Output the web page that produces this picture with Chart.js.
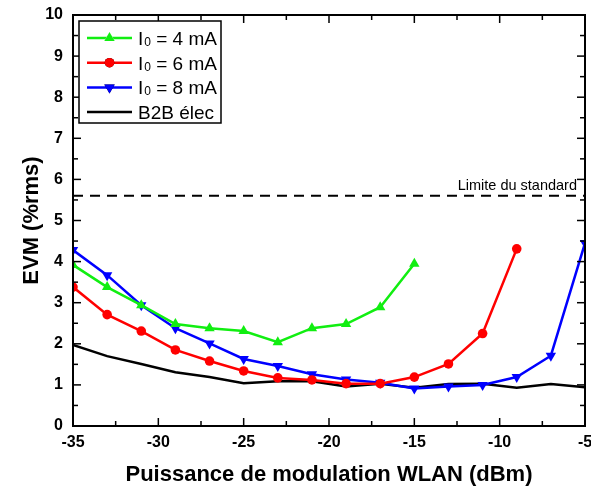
<!DOCTYPE html>
<html>
<head>
<meta charset="utf-8">
<script src="https://cdn.jsdelivr.net/npm/chart.js@4/dist/chart.umd.min.js"></script>
<style>
  html, body { margin: 0; padding: 0; background: #ffffff; }
  #wrap { width: 591px; height: 493px; position: relative; }
</style>
</head>
<body>
<div id="wrap"><canvas id="c" width="591" height="493"></canvas></div>
<script>
// ---- data ----
const powers = [-35, -33, -31, -29, -27, -25, -23, -21, -19, -17, -15, -13, -11, -9, -7, -5];
const evm4mA = [3.92, 3.38, 2.94, 2.48, 2.38, 2.31, 2.04, 2.38, 2.48, 2.89, 3.95];
const evm6mA = [3.38, 2.71, 2.31, 1.85, 1.58, 1.34, 1.17, 1.12, 1.03, 1.03, 1.19, 1.51, 2.25, 4.31];
const evm8mA = [4.28, 3.67, 2.94, 2.38, 2.01, 1.63, 1.46, 1.26, 1.13, 1.05, 0.91, 0.96, 1.0, 1.19, 1.71, 4.45];
const evmB2B = [1.97, 1.7, 1.51, 1.31, 1.19, 1.04, 1.09, 1.09, 0.96, 1.03, 0.93, 1.02, 1.03, 0.93, 1.02, 0.94];
const standardLimit = 5.6;
const seriesLabels = ['I₀ = 4 mA', 'I₀ = 6 mA', 'I₀ = 8 mA', 'B2B élec'];
const limitLabel = 'Limite du standard';
const xTitle = 'Puissance de modulation WLAN (dBm)';
const yTitle = 'EVM (%rms)';
const xMajorTicks = [-35, -30, -25, -20, -15, -10, -5];
const xMinorTicks = [-32.5, -27.5, -22.5, -17.5, -12.5, -7.5];
const yMajorTicks = [0, 1, 2, 3, 4, 5, 6, 7, 8, 9, 10];
const yMinorTicks = [0.5, 1.5, 2.5, 3.5, 4.5, 5.5, 6.5, 7.5, 8.5, 9.5];

const FONT = '"Liberation Sans", Arial, Helvetica, sans-serif';
const toPts = (vals) => vals.map((v, i) => ({ x: powers[i], y: v }));

const data = {
  datasets: [
    { label: seriesLabels[0], data: toPts(evm4mA), borderColor: '#11ee11', backgroundColor: '#11ee11',
      borderWidth: 2.5, pointStyle: 'triangle', pointRadius: 6, pointBorderWidth: 0, pointRotation: 0, tension: 0 },
    { label: seriesLabels[1], data: toPts(evm6mA), borderColor: '#ff0000', backgroundColor: '#ff0000',
      borderWidth: 2.5, pointStyle: 'circle', pointRadius: 4.8, pointBorderWidth: 0, tension: 0 },
    { label: seriesLabels[2], data: toPts(evm8mA), borderColor: '#0000ff', backgroundColor: '#0000ff',
      borderWidth: 2.5, pointStyle: 'triangle', pointRadius: 6, pointBorderWidth: 0, pointRotation: 180, tension: 0 },
    { label: seriesLabels[3], data: toPts(evmB2B), borderColor: '#000000', backgroundColor: '#000000',
      borderWidth: 2.5, pointRadius: 0, tension: 0 },
    { label: limitLabel, data: [{ x: powers[0], y: standardLimit }, { x: powers[powers.length - 1], y: standardLimit }],
      borderColor: '#000000', borderWidth: 2, borderDash: [10, 7], pointRadius: 0, tension: 0 }
  ]
};

const framePlugin = {
  id: 'frameTicks',
  afterDatasetsDraw(chart) {
    const ctx = chart.ctx;
    const { left, right, top, bottom } = chart.chartArea;
    const xs = chart.scales.x, ys = chart.scales.y;
    ctx.save();
    ctx.strokeStyle = '#000';
    ctx.lineWidth = 2;
    ctx.strokeRect(left, top, right - left, bottom - top);
    ctx.lineWidth = 1.5;
    const tick = (x1, y1, x2, y2) => { ctx.beginPath(); ctx.moveTo(x1, y1); ctx.lineTo(x2, y2); ctx.stroke(); };
    xMajorTicks.forEach(v => { const p = xs.getPixelForValue(v); tick(p, bottom, p, bottom - 8); tick(p, top, p, top + 8); });
    xMinorTicks.forEach(v => { const p = xs.getPixelForValue(v); tick(p, bottom, p, bottom - 5); tick(p, top, p, top + 5); });
    yMajorTicks.forEach(v => { const p = ys.getPixelForValue(v); tick(left, p, left + 8, p); tick(right, p, right - 8, p); });
    yMinorTicks.forEach(v => { const p = ys.getPixelForValue(v); tick(left, p, left + 5, p); tick(right, p, right - 5, p); });

    // limit annotation text
    ctx.fillStyle = '#000';
    ctx.font = '14.5px ' + FONT;
    ctx.textAlign = 'right';
    ctx.textBaseline = 'alphabetic';
    ctx.fillText(limitLabel, right - 8, ys.getPixelForValue(standardLimit) - 6);

    // legend
    const lx = left + 6, ly = top + 6, lw = 142, lh = 102;
    ctx.fillStyle = '#fff';
    ctx.fillRect(lx, ly, lw, lh);
    ctx.lineWidth = 1.5;
    ctx.strokeStyle = '#000';
    ctx.strokeRect(lx, ly, lw, lh);
    const rowH = 24.7;
    for (let i = 0; i < 4; i++) {
      const ds = chart.data.datasets[i];
      const cy = ly + 17 + i * rowH;
      ctx.strokeStyle = ds.borderColor;
      ctx.lineWidth = 2.5;
      tick(lx + 8, cy, lx + 53, cy);
      if (ds.pointRadius > 0) {
        Chart.helpers.drawPoint(ctx, { pointStyle: ds.pointStyle, radius: ds.pointRadius, rotation: ds.pointRotation || 0, borderWidth: 0 }, lx + 30.5, cy);
        ctx.fillStyle = ds.backgroundColor;
        ctx.fill();
      }
      // text with subscript
      ctx.fillStyle = '#000';
      ctx.textAlign = 'left';
      ctx.textBaseline = 'alphabetic';
      let tx = lx + 59;
      const base = cy + 7;
      const label = ds.label;
      const k = label.indexOf('₀');
      if (k >= 0) {
        ctx.font = '19px ' + FONT;
        const a = label.slice(0, k);
        ctx.fillText(a, tx, base); tx += ctx.measureText(a).width + 1;
        ctx.font = '12px ' + FONT;
        ctx.fillText('0', tx, base + 1); tx += ctx.measureText('0').width;
        ctx.font = '19px ' + FONT;
        ctx.fillText(label.slice(k + 1), tx, base);
      } else {
        ctx.font = '19px ' + FONT;
        ctx.fillText(label, tx, base);
      }
    }
    ctx.restore();
  }
};

new Chart(document.getElementById('c'), {
  type: 'line',
  data,
  options: {
    responsive: false,
    animation: false,
    layout: { padding: { top: 15, right: 6, left: 0, bottom: 0 } },
    plugins: { legend: { display: false }, tooltip: { enabled: false } },
    scales: {
      x: {
        type: 'linear', min: -35, max: -5,
        grid: { display: false, drawTicks: false },
        border: { display: false },
        ticks: { stepSize: 5, padding: 7, color: '#000', font: { family: FONT, size: 16, weight: 'bold' }, maxRotation: 0 },
        title: { display: true, text: xTitle, color: '#000', font: { family: FONT, size: 22, weight: 'bold' }, padding: { top: 5, bottom: 5 } },
        afterFit(s) { s.height = 67; s.paddingLeft = 0; s.paddingRight = 0; }
      },
      y: {
        type: 'linear', min: 0, max: 10,
        grid: { display: false, drawTicks: false },
        border: { display: false },
        ticks: { stepSize: 1, padding: 10, color: '#000', font: { family: FONT, size: 16, weight: 'bold' } },
        title: { display: true, text: yTitle, color: '#000', font: { family: FONT, size: 22, weight: 'bold' }, padding: { top: 19, bottom: 19 } },
        afterFit(s) { s.width = 73; s.paddingTop = 0; s.paddingBottom = 0; }
      }
    }
  },
  plugins: [framePlugin]
});
</script>
</body>
</html>
